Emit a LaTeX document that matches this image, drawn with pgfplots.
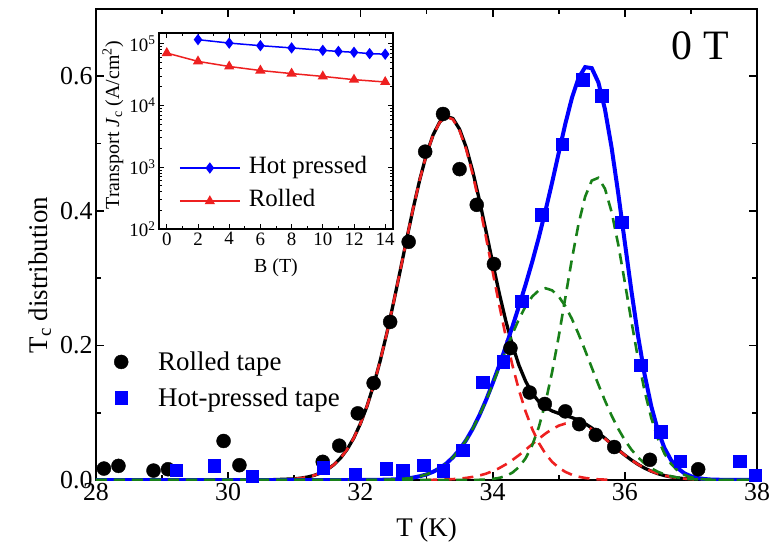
\documentclass[border=0pt]{standalone}
\usepackage{fontspec}
\setmainfont{Liberation Serif}
\usepackage{pgfplots}
\pgfplotsset{compat=1.18}
\usepackage{pgfplotstable}
\definecolor{cblue}{RGB}{0,0,255}
\definecolor{cred}{RGB}{238,32,32}
\definecolor{cgreen}{RGB}{24,128,24}

\pgfplotstableread{
T blk r1 r2 blu g2 g3
28.0 0 0 0 0 0 0
30.0 0 0 0 0 0 0
30.6 0.0002 0.0002 0 0 0 0
31.0 0.0017 0.0017 0 0 0 0
31.1 0.0028 0.0028 0 0 0 0
31.2 0.0044 0.0044 0 0 0 0
31.3 0.0069 0.0069 0 0 0 0
31.4 0.0105 0.0105 0 0 0 0
31.5 0.0156 0.0156 0 0 0 0
31.6 0.0228 0.0228 0 0 0 0
31.7 0.0326 0.0326 0 0 0 0
31.8 0.0456 0.0456 0 0 0 0
31.9 0.0624 0.0624 0 0 0 0
32.0 0.0837 0.0837 0 0.0001 0.0001 0
32.1 0.1098 0.1098 0 0.0001 0.0001 0
32.2 0.1411 0.1411 0 0.0002 0.0002 0
32.3 0.1774 0.1774 0 0.0003 0.0003 0
32.4 0.2183 0.2183 0 0.0005 0.0005 0
32.5 0.2630 0.2630 0 0.0009 0.0009 0
32.6 0.3101 0.3101 0 0.0015 0.0015 0
32.7 0.3579 0.3579 0 0.0023 0.0023 0
32.8 0.4044 0.4044 0 0.0036 0.0036 0
32.9 0.4471 0.4471 0 0.0056 0.0056 0
33.0 0.4842 0.4840 0.0002 0.0083 0.0083 0
33.1 0.5130 0.5127 0.0003 0.0122 0.0122 0
33.2 0.5322 0.5317 0.0005 0.0175 0.0175 0
33.3 0.5406 0.5398 0.0008 0.0245 0.0245 0
33.4 0.5372 0.5359 0.0013 0.0337 0.0337 0
33.5 0.5214 0.5194 0.0020 0.0452 0.0452 0
33.6 0.4946 0.4915 0.0031 0.0593 0.0593 0
33.7 0.4587 0.4541 0.0046 0.0762 0.0762 0
33.8 0.4161 0.4095 0.0066 0.0961 0.0958 0.0003
33.9 0.3701 0.3607 0.0094 0.1186 0.1179 0.0007
34.0 0.3232 0.3101 0.0131 0.1435 0.1419 0.0016
34.1 0.2778 0.2602 0.0176 0.1702 0.1671 0.0031
34.2 0.2364 0.2132 0.0232 0.1985 0.1925 0.0060
34.3 0.2002 0.1705 0.0297 0.2280 0.2170 0.0110
34.4 0.1702 0.1332 0.0370 0.2587 0.2394 0.0193
34.5 0.1466 0.1016 0.0450 0.2907 0.2584 0.0323
34.6 0.1288 0.0756 0.0532 0.3245 0.2728 0.0517
34.7 0.1163 0.0549 0.0614 0.3608 0.2819 0.0789
34.8 0.1080 0.0390 0.0690 0.4001 0.2850 0.1151
34.9 0.1026 0.0270 0.0756 0.4421 0.2819 0.1602
35.0 0.0990 0.0183 0.0807 0.4860 0.2728 0.2132
35.1 0.0960 0.0121 0.0839 0.5292 0.2584 0.2708
35.2 0.0928 0.0078 0.0850 0.5679 0.2394 0.3285
35.3 0.0888 0.0049 0.0839 0.5975 0.2170 0.3805
35.4 0.0837 0.0030 0.0807 0.6136 0.1925 0.4211
35.5 0.0774 0.0018 0.0756 0.6121 0.1671 0.4450
35.6 0.0700 0.0010 0.0690 0.5910 0.1419 0.4491
35.7 0.0620 0.0006 0.0614 0.5508 0.1179 0.4329
35.8 0.0535 0.0003 0.0532 0.4942 0.0958 0.3984
35.9 0.0450 0 0.0450 0.4265 0.0762 0.3503
36.0 0.0370 0 0.0370 0.3534 0.0593 0.2941
36.1 0.0297 0 0.0297 0.2810 0.0452 0.2358
36.2 0.0232 0 0.0232 0.2143 0.0337 0.1806
36.3 0.0176 0 0.0176 0.1566 0.0245 0.1321
36.4 0.0131 0 0.0131 0.1098 0.0175 0.0923
36.5 0.0094 0 0.0094 0.0738 0.0122 0.0616
36.6 0.0066 0 0.0066 0.0475 0.0083 0.0392
36.7 0.0046 0 0.0046 0.0295 0.0056 0.0239
36.8 0.0031 0 0.0031 0.0175 0.0036 0.0139
36.9 0.0020 0 0.0020 0.0100 0.0023 0.0077
37.0 0.0013 0 0.0013 0.0056 0.0015 0.0041
37.1 0.0008 0 0.0008 0.0030 0.0009 0.0021
37.2 0.0005 0 0.0005 0.0015 0.0005 0.0010
37.3 0.0003 0 0.0003 0.0007 0.0003 0.0005
37.5 0.0001 0 0.0001 0.0002 0.0001 0.0001
38.0 0 0 0 0 0 0
}\curves

\begin{document}
\begin{tikzpicture}
\useasboundingbox (-96bp,-70bp) rectangle (677bp,480bp);
\begin{axis}[
  at={(0,0)}, anchor=south west,
  scale only axis, width=661bp, height=471bp,
  xmin=28, xmax=38, ymin=0, ymax=0.7,
  xtick={28,30,...,38}, minor x tick num=1,
  ytick={0,0.2,0.4,0.6}, minor y tick num=1,
  /pgf/number format/assume math mode=true,
  yticklabel style={/pgf/number format/.cd,fixed,fixed zerofill,precision=1},
  tick label style={font=\fontsize{26}{28}\selectfont},
  label style={font=\fontsize{27}{30}\selectfont},
  xlabel={T (K)},
  ylabel={T\textsubscript{c} distribution},
  xlabel style={at={(axis description cs:0.5,-0.106)}, anchor=center},
  ylabel style={at={(axis description cs:-0.085,0.435)}, anchor=center},
  axis line style={line width=2.2bp},
  major tick length=8bp, minor tick length=5bp,
  every tick/.append style={line width=1.8bp, black},
  legend cell align=left,
  legend style={draw=none, fill=none, at={(0.0197,0.266)}, anchor=north west,
    inner sep=0pt, row sep=18bp, font=\fontsize{27}{30}\selectfont,
    nodes={inner sep=1bp, text height=0.72em, text depth=0.22em}},
  legend image code/.code={\draw[mark repeat=2,mark phase=2,#1] plot coordinates {(0bp,6bp) (12bp,6bp) (24bp,6bp)}; \path[draw=none,fill=none] (0bp,6bp) -- (48bp,6bp);},
]
\addplot[black, line width=3.3bp, forget plot] table[x=T,y=blk]{\curves};
\addplot[cred, line width=2.6bp, dash pattern=on 11bp off 7bp, forget plot, restrict x to domain=31.0:35.8] table[x=T,y=r1]{\curves};
\addplot[cred, line width=2.6bp, dash pattern=on 11bp off 7bp, forget plot, restrict x to domain=33.0:37.5] table[x=T,y=r2]{\curves};
\addplot[cblue, line width=4bp, forget plot] table[x=T,y=blu]{\curves};
\addplot[cgreen, line width=2.6bp, dash pattern=on 11bp off 7bp, forget plot] table[x=T,y=g2]{\curves};
\addplot[cgreen, line width=2.6bp, dash pattern=on 11bp off 7bp, forget plot] table[x=T,y=g3]{\curves};

\addplot[only marks, mark=*, mark size=7bp, black] coordinates {
(28.12,0.017) (28.34,0.021) (28.87,0.014) (29.09,0.016) (29.93,0.058) (30.17,0.022)
(31.43,0.027) (31.68,0.051) (31.96,0.099) (32.20,0.144) (32.45,0.235) (32.73,0.354)
(32.98,0.488) (33.25,0.544) (33.50,0.462) (33.76,0.409) (34.02,0.321) (34.27,0.196)
(34.56,0.130) (34.79,0.113) (35.10,0.102) (35.31,0.083) (35.56,0.067) (35.84,0.049)
(36.38,0.030) (37.11,0.016)
};
\addlegendentry{Rolled tape}
\addplot[only marks, mark=square*, mark size=6.2bp, cblue] coordinates {
(29.21,0.015) (29.79,0.021) (30.36,0.006) (31.44,0.018) (31.92,0.009) (32.39,0.017)
(32.64,0.015) (32.96,0.022) (33.25,0.014) (33.55,0.044) (33.85,0.145) (34.16,0.176)
(34.44,0.266) (34.74,0.394) (35.05,0.499) (35.36,0.595) (35.65,0.571) (35.95,0.383)
(36.24,0.171) (36.54,0.072) (36.84,0.028) (37.74,0.028) (37.97,0.007)
};
\addlegendentry{Hot-pressed tape}
\node[font=\fontsize{42}{46}\selectfont, anchor=center] at (axis cs:37.14,0.646) {0 T};
\end{axis}

\begin{axis}[
  at={(63bp,251bp)}, anchor=south west,
  scale only axis, width=234bp, height=196bp,
  xmin=-0.5, xmax=14.5, ymode=log, ymin=100, ymax=1.5e5,
  xtick={0,2,...,14}, minor x tick num=1,
  ytick={100,1000,10000,100000},
  yticklabels={10\textsuperscript{2},10\textsuperscript{3},10\textsuperscript{4},10\textsuperscript{5}},
  /pgf/number format/assume math mode=true,
  tick label style={font=\fontsize{19}{21}\selectfont},
  label style={font=\fontsize{20}{22}\selectfont},
  xlabel={B (T)},
  ylabel={Transport \textit{J}\textsubscript{c} (A/cm\textsuperscript{2})},
  xlabel style={at={(axis description cs:0.5,-0.199)}, anchor=center},
  ylabel style={at={(axis description cs:-0.197,0.53)}, anchor=center},
  axis line style={line width=1.3bp},
  major tick length=5bp, minor tick length=3bp,
  every tick/.append style={line width=1bp, black},
  legend cell align=left,
  legend style={draw=none, fill=none, at={(0.085,0.335)}, anchor=north west,
    inner sep=0pt, row sep=20bp, font=\fontsize{25}{28}\selectfont,
    nodes={inner sep=1bp, text height=0.72em, text depth=0.22em}},
  legend image code/.code={\draw[mark repeat=2,mark phase=2,#1] plot coordinates {(0bp,3bp) (30bp,3bp) (60bp,3bp)}; \path[draw=none,fill=none] (0bp,3bp) -- (68bp,3bp);},
]
\addplot[cblue, line width=1.5bp, mark=diamond*, mark size=4.5bp] coordinates {
(2,1.17e5) (4,1.03e5) (6,9.35e4) (8,8.6e4) (10,7.85e4) (11,7.55e4) (12,7.3e4) (13,6.95e4) (14,6.8e4)
};
\addlegendentry{Hot pressed}
\addplot[cred, line width=1.5bp, mark=triangle*, mark size=4.5bp] coordinates {
(0,7.1e4) (2,5.2e4) (4,4.3e4) (6,3.7e4) (8,3.3e4) (10,2.97e4) (12,2.63e4) (14,2.41e4)
};
\addlegendentry{Rolled}
\end{axis}
\end{tikzpicture}
\end{document}
